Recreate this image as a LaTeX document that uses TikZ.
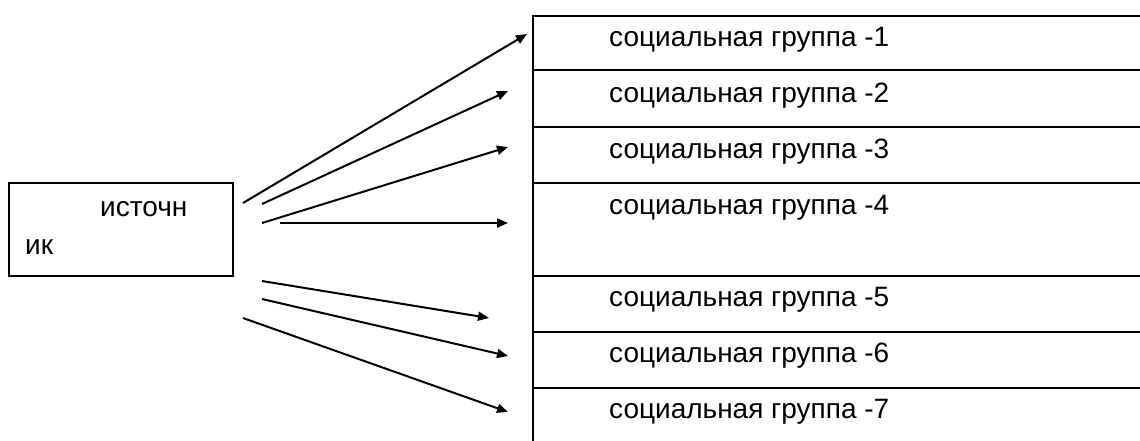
\documentclass[tikz,border=0pt]{standalone}
\usepackage{fontspec}
\setmainfont{Liberation Sans}
\usetikzlibrary{arrows.meta}
\begin{document}
\begin{tikzpicture}[x=1pt,y=-1pt,
  lbl/.style={anchor=base west,inner sep=0pt,font=\fontsize{28}{34}\selectfont},
  rowbox/.style={draw,line width=2pt,anchor=north west,inner sep=0pt,minimum width=640pt},
  conn/.style={line width=2pt,-{Triangle[length=11pt,width=9pt]}}]
\useasboundingbox (0,0) rectangle (1140,440);
\clip (0,0) rectangle (1140,440);
% source box
\node[draw,line width=2pt,anchor=north west,inner sep=0pt,minimum width=224pt,minimum height=93pt] (src) at (8,182) {};
\node[lbl] (srcA) at (100,216) {источн};
\node[lbl] (srcB) at (25,254) {ик};
% table rows
\node[rowbox,minimum height=54pt] (r1) at (532,15) {};
\node[rowbox,minimum height=57pt] (r2) at (532,69) {};
\node[rowbox,minimum height=56pt] (r3) at (532,126) {};
\node[rowbox,minimum height=93pt] (r4) at (532,182) {};
\node[rowbox,minimum height=56pt] (r5) at (532,275) {};
\node[rowbox,minimum height=56pt] (r6) at (532,331) {};
\node[rowbox,minimum height=80pt] (r7) at (532,387) {};
\node[lbl] (t1) at (609,46) {социальная группа -1};
\node[lbl] (t2) at (609,102) {социальная группа -2};
\node[lbl] (t3) at (609,158) {социальная группа -3};
\node[lbl] (t4) at (609,214) {социальная группа -4};
\node[lbl] (t5) at (609,306) {социальная группа -5};
\node[lbl] (t6) at (609,362) {социальная группа -6};
\node[lbl] (t7) at (609,418) {социальная группа -7};
% arrow ends
\coordinate (s1) at (243,203); \coordinate (e1) at (527,34);
\coordinate (s2) at (262,204); \coordinate (e2) at (508,91);
\coordinate (s3) at (262,223); \coordinate (e3) at (508,147);
\coordinate (s4) at (280,223); \coordinate (e4) at (508,223);
\coordinate (s5) at (262,281); \coordinate (e5) at (489,318);
\coordinate (s6) at (262,299); \coordinate (e6) at (508,356);
\coordinate (s7) at (243,318); \coordinate (e7) at (508,412);
\foreach \i in {1,...,7} {\draw[conn] (s\i) -- (e\i);}
\end{tikzpicture}
\end{document}
